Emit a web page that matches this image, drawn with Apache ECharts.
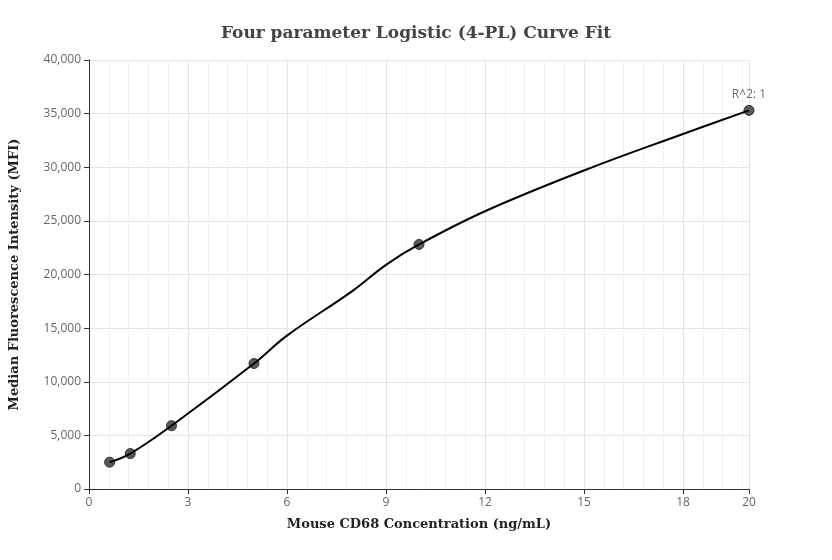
<!DOCTYPE html>
<html><head><meta charset="utf-8">
<script src="https://cdn.jsdelivr.net/npm/echarts@6/dist/echarts.min.js"></script>
<style>html,body{margin:0;background:#fff}#chart{width:832px;height:560px}</style>
</head><body><div id="chart"></div>
<script>
// measured standards
const standardX = [0.625, 1.25, 2.5, 5, 10, 20];
const standardY = [2500, 3300, 5900, 11700, 22800, 35300];
// fitted curve
const curveX = [0.625, 1.25, 2.5, 5, 6, 8, 9, 10, 12, 15, 18, 20];
const curveY = [2500, 3300, 5900, 11700, 14300, 18500, 20900, 22800, 25900, 29700, 33100, 35300];

const chart = echarts.init(document.getElementById("chart"));
const axisText = { color: "#666", fontSize: 12, fontFamily: "Open Sans" };
const titleFont = { fontFamily: "DejaVu Serif", fontWeight: "bold", color: "#222", fontSize: 13 };

chart.setOption({
  animation: false,
  title: {
    text: "Four parameter Logistic (4-PL) Curve Fit",
    left: "center", top: 20,
    textStyle: { fontFamily: "DejaVu Serif", fontWeight: "bold", color: "#444", fontSize: 17 },
  },
  grid: { left: 83, right: 83, top: 60, bottom: 71 },
  xAxis: {
    type: "value", min: 0, max: 20, interval: 3,
    name: "Mouse CD68 Concentration (ng/mL)", nameLocation: "middle", nameGap: 29,
    nameTextStyle: titleFont,
    axisLine: { lineStyle: { color: "#333" } },
    axisTick: { show: true, length: 5, lineStyle: { color: "#333" } },
    axisLabel: axisText,
    splitLine: { lineStyle: { color: "#dfe3ee" } },
    minorTick: { show: false, splitNumber: 5 },
    minorSplitLine: { show: true, lineStyle: { color: "#f0f1f6" } },
  },
  yAxis: {
    type: "value", min: 0, max: 40000, interval: 5000,
    name: "Median Fluorescence Intensity (MFI)", nameLocation: "middle", nameGap: 68,
    nameTextStyle: titleFont,
    axisLine: { show: true, lineStyle: { color: "#333" } },
    axisTick: { show: true, length: 5, lineStyle: { color: "#333" } },
    axisLabel: { ...axisText, formatter: (v) => v.toLocaleString("en-US") },
    splitLine: { lineStyle: { color: "#dfe3ee" } },
  },
  series: [
    {
      type: "line", smooth: 0.4, showSymbol: false,
      data: curveX.map((x, i) => [x, curveY[i]]),
      lineStyle: { color: "#000", width: 2 },
    },
    {
      type: "scatter", symbolSize: 10,
      data: standardX.map((x, i) => [x, standardY[i]]),
      itemStyle: { color: "#333", borderColor: "#111", borderWidth: 1 },
      label: {
        show: true, position: "top", distance: 4,
        formatter: (p) => (p.dataIndex === standardX.length - 1 ? "R^2: 1" : ""),
        color: "#444", fontSize: 12, fontFamily: "Open Sans",
      },
    },
  ],
});
</script></body></html>
